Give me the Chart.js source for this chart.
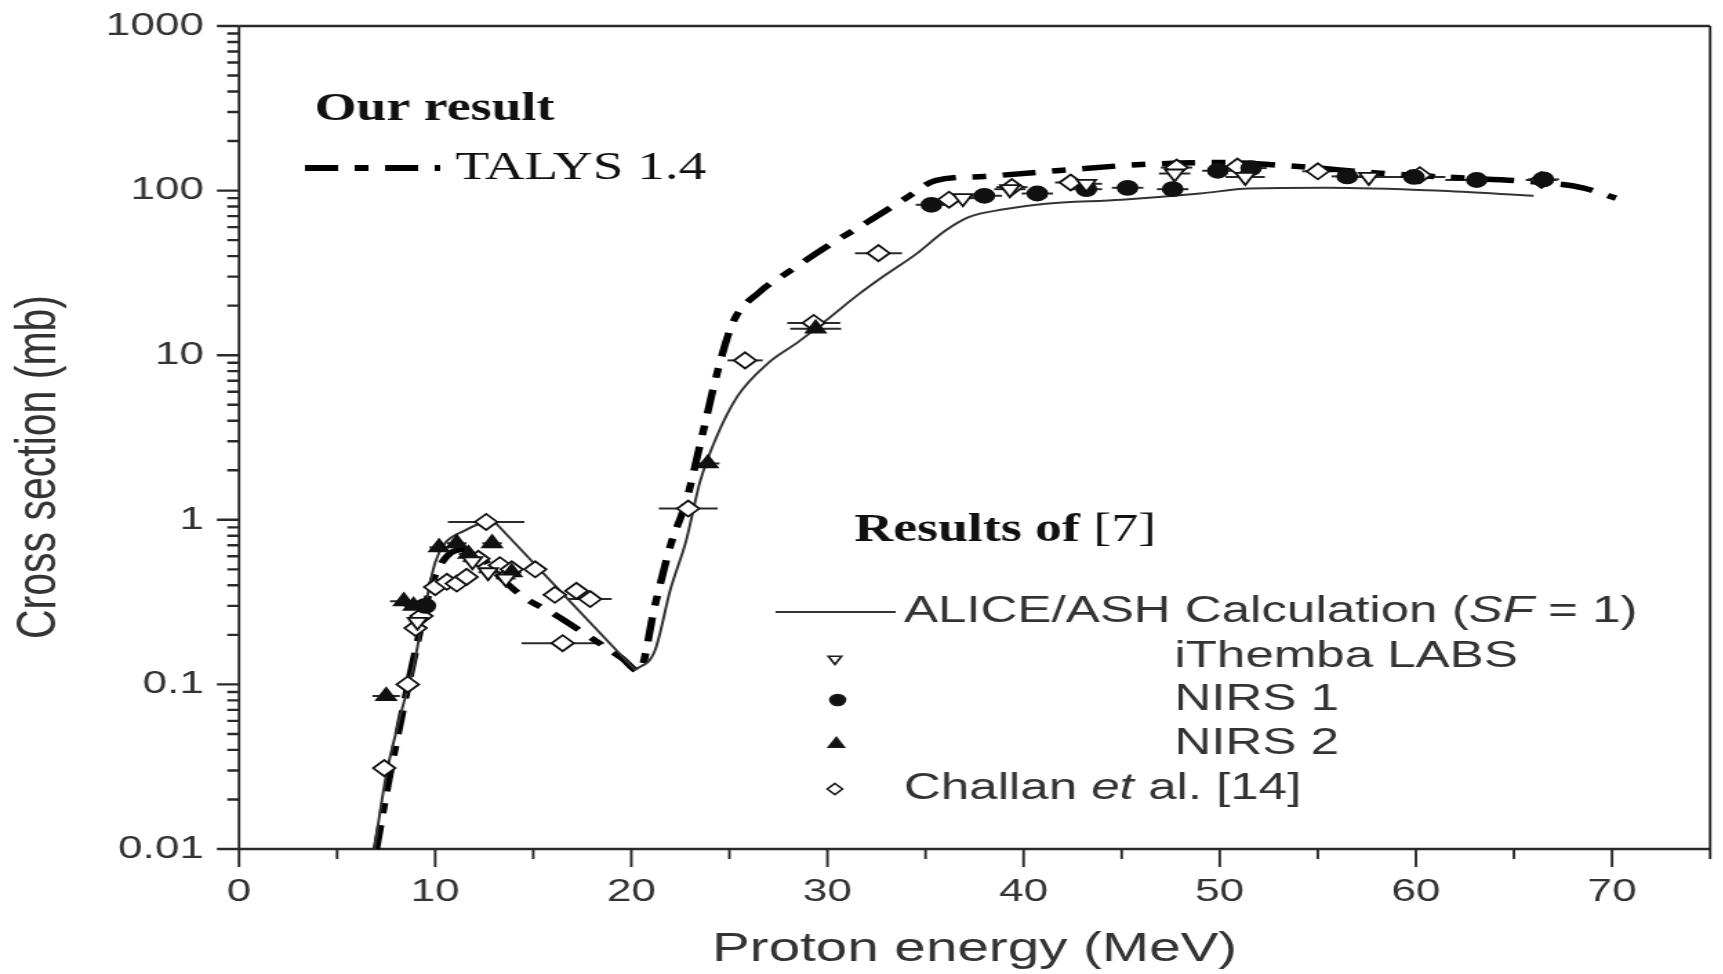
<!DOCTYPE html>
<html>
<head>
<meta charset="utf-8">
<title>Cross section vs proton energy</title>
<script src="https://cdn.jsdelivr.net/npm/chart.js@4.4.1/dist/chart.umd.min.js"></script>
<style>
  html, body { margin: 0; padding: 0; background: #fff; overflow: hidden; }
  #wrap { width: 1723px; height: 974px; overflow: hidden; }
  /* the figure is drawn narrow and widened, like the original plot */
  #plot { display: block; transform: scaleX(1.38); transform-origin: 0 0; }
</style>
</head>
<body>
<div id="wrap"><canvas id="plot" width="1249" height="974"></canvas></div>
<script>
// axes
const xTicks = [0, 10, 20, 30, 40, 50, 60, 70];
const yTicks = [0.01, 0.1, 1, 10, 100, 1000];
const yTickLabels = ['0.01', '0.1', '1', '10', '100', '1000'];

// TALYS 1.4 (our result)
const talysE  = [7.0, 7.6, 8.3, 9.0, 9.8, 10.6, 11.5, 12.3, 13.3, 14.5, 16.0, 18.0, 19.5, 20.4, 21.2, 22.0, 22.8, 23.6, 24.4, 25.2, 26.5, 28.0, 30.0, 32.0, 34.0, 35.5, 38.0, 42.0, 46.0, 50.0, 54.0, 58.0, 62.0, 66.0, 68.5, 70.2];
const talysXS = [0.01, 0.025, 0.065, 0.16, 0.4, 0.6, 0.66, 0.6, 0.45, 0.34, 0.27, 0.19, 0.145, 0.12, 0.3, 0.7, 1.3, 3.2, 8, 16, 24, 32, 46, 64, 90, 115, 122, 133, 144, 148, 140, 128, 120, 113, 104, 90];

// ALICE/ASH calculation; sharp peak at 13 MeV, straight fall to the 20.2 MeV minimum
const aliceE  = [6.9, 7.5, 8.2, 8.9, 9.4, 10.0, 10.5, 11.5, 12.3, 13.0, 20.2, 21.2, 22.0, 22.8, 23.5, 24.3, 25.4, 27.0, 28.5, 30.0, 31.5, 33.0, 34.5, 36.0, 37.2, 39.0, 41.0, 45.0, 49.0, 51.5, 55.5, 61.0, 66.0];
const aliceXS = [0.01, 0.028, 0.063, 0.13, 0.26, 0.55, 0.72, 0.86, 0.95, 0.98, 0.122, 0.16, 0.38, 0.75, 1.7, 3.1, 5.6, 9.0, 12, 16.5, 23, 31, 41, 57, 69, 77, 83, 88, 96, 103, 104, 100, 93];
const alicePeak = 9;
const aliceMin = 10;

// measurements: energy, cross section, energy half-width
const ithembaE  = [9.1, 11.9, 12.7, 13.6, 36.9, 39.3, 43.2, 47.7, 51.3, 57.6];
const ithembaXS = [0.24, 0.56, 0.48, 0.44, 90, 102, 110, 127, 121, 121];
const ithembaDE = [0.4, 0.5, 0.5, 0.5, 0.8, 0.8, 0.8, 0.8, 1.0, 0.8];

const nirs1E  = [9.5, 35.3, 38.0, 40.7, 43.2, 45.3, 47.6, 49.9, 51.6, 56.5, 59.9, 63.1, 66.5];
const nirs1XS = [0.3, 82, 93, 96, 102, 104, 102, 132, 137, 122, 121, 116, 117];
const nirs1DE = [0.4, 0.8, 0.9, 0.8, 0.8, 0.8, 0.8, 0.8, 0.8, 0.8, 1.6, 1.6, 0.8];

const nirs2E  = [7.5, 8.4, 8.9, 10.2, 11.1, 11.7, 12.9, 13.9, 23.9, 29.4];
const nirs2XS = [0.085, 0.32, 0.3, 0.68, 0.72, 0.62, 0.72, 0.48, 2.2, 14.5];
const nirs2DE = [0.7, 0.7, 0.5, 0.5, 0.5, 0.5, 0.5, 0.5, 0.6, 1.3];

const challanE  = [7.4, 8.6, 9.0, 9.3, 10.0, 10.6, 11.1, 11.6, 12.2, 12.6, 13.3, 13.9, 15.1, 16.1, 16.5, 17.2, 17.9, 22.9, 25.8, 29.3, 32.6, 36.2, 39.4, 42.4, 47.8, 50.9, 55.0, 60.2, 66.4];
const challanXS = [0.031, 0.10, 0.22, 0.26, 0.39, 0.42, 0.41, 0.45, 0.58, 0.97, 0.53, 0.50, 0.50, 0.35, 0.178, 0.37, 0.33, 1.17, 9.3, 15.7, 41.7, 88, 105, 112, 138, 140, 131, 124, 116];
const challanDE = [0.3, 0.3, 0.3, 0.3, 0.4, 0.4, 0.4, 0.4, 0.4, 1.95, 0.5, 0.5, 0.5, 0.6, 2.1, 0.6, 1.1, 1.5, 0.9, 1.35, 1.2, 0.8, 0.8, 0.8, 0.8, 0.8, 0.8, 0.8, 0.8];

const SANS = '"Liberation Sans", Arial, sans-serif';
const SERIF = '"Liberation Serif", "Times New Roman", serif';
const GREY = '#333';
const talysDash = [24, 12, 10, 12];

function pairs(xs, ys, dx) {
  return xs.map((x, i) => ({ x: x, y: ys[i], dx: dx ? dx[i] : 0 }));
}

function shape(ctx, kind, x, y, r) {
  ctx.beginPath();
  if (kind === 'circle') {
    ctx.arc(x, y, r, 0, Math.PI * 2);
  } else if (kind === 'up' || kind === 'down') {
    const s = kind === 'up' ? 1 : -1;
    ctx.moveTo(x, y - s * r);
    ctx.lineTo(x + r * 0.866, y + s * r / 2);
    ctx.lineTo(x - r * 0.866, y + s * r / 2);
    ctx.closePath();
  } else {
    ctx.moveTo(x, y - r);
    ctx.lineTo(x + r, y);
    ctx.lineTo(x, y + r);
    ctx.lineTo(x - r, y);
    ctx.closePath();
  }
}

// text made of several runs with their own fonts
function runs(ctx, parts, x, y) {
  for (const [txt, font] of parts) {
    ctx.font = font;
    ctx.fillText(txt, x, y);
    x += ctx.measureText(txt).width;
  }
}

// frame, tick marks and energy error bars
const frame = {
  id: 'frame',
  beforeDatasetsDraw(chart) {
    const { ctx, chartArea: a, scales: { x, y } } = chart;
    ctx.save();
    ctx.strokeStyle = '#2a2a2a';

    ctx.lineWidth = 2;
    chart.data.datasets.forEach(ds => {
      if (!ds.errorBars) return;
      ds.data.forEach(p => {
        if (!p.dx) return;
        const py = y.getPixelForValue(p.y);
        ctx.beginPath();
        ctx.moveTo(x.getPixelForValue(p.x - p.dx), py);
        ctx.lineTo(x.getPixelForValue(p.x + p.dx), py);
        ctx.stroke();
      });
    });

    ctx.lineWidth = 2.6;
    ctx.beginPath();
    ctx.moveTo(a.left, a.top); ctx.lineTo(a.right, a.top);
    ctx.moveTo(a.left, a.bottom); ctx.lineTo(a.right, a.bottom);
    ctx.stroke();
    ctx.lineWidth = 1.9;
    ctx.beginPath();
    ctx.moveTo(a.left, a.top); ctx.lineTo(a.left, a.bottom);
    ctx.moveTo(a.right, a.top); ctx.lineTo(a.right, a.bottom);
    ctx.stroke();

    // log ticks on the left, 1..9 per decade
    ctx.lineWidth = 2.4;
    ctx.beginPath();
    for (let d = -2; d <= 3; d++) {
      for (let m = 1; m <= 9; m++) {
        const v = m * Math.pow(10, d);
        if (v > 1000.001) break;
        const py = y.getPixelForValue(v);
        const len = m === 1 ? 16 : 8.5;
        ctx.moveTo(a.left - len, py);
        ctx.lineTo(a.left, py);
      }
    }
    ctx.stroke();

    // energy ticks every 5 MeV
    ctx.lineWidth = 1.9;
    ctx.beginPath();
    for (let v = 0; v <= 75; v += 5) {
      const px = x.getPixelForValue(v);
      const len = v % 10 === 0 ? 18 : 10;
      ctx.moveTo(px, a.bottom);
      ctx.lineTo(px, a.bottom + len);
    }
    ctx.stroke();
    ctx.restore();
  }
};

// axis title and the two key blocks
const notes = {
  id: 'notes',
  afterDraw(chart) {
    const ctx = chart.ctx;
    ctx.save();
    ctx.textBaseline = 'middle';

    ctx.save();
    ctx.translate(29, 467);
    ctx.rotate(-Math.PI / 2);
    ctx.textAlign = 'center';
    ctx.fillStyle = GREY;
    ctx.font = '41px ' + SANS;
    ctx.fillText('Cross section (mb)', 0, 0);
    ctx.restore();

    ctx.textAlign = 'left';
    ctx.fillStyle = '#111';
    ctx.font = 'bold 39px ' + SERIF;
    ctx.fillText('Our result', 228, 110);

    ctx.strokeStyle = '#000';
    ctx.lineWidth = 6;
    ctx.setLineDash(talysDash);
    ctx.beginPath();
    ctx.moveTo(221, 168);
    ctx.lineTo(319, 168);
    ctx.stroke();
    ctx.setLineDash([]);
    ctx.font = '40px ' + SERIF;
    ctx.fillText('TALYS 1.4', 330, 168);

    runs(ctx, [['Results of ', 'bold 39px ' + SERIF], ['[7]', '39px ' + SERIF]], 619, 531);

    ctx.fillStyle = GREY;
    ctx.strokeStyle = '#333';
    ctx.lineWidth = 2;
    ctx.beginPath();
    ctx.moveTo(562, 612);
    ctx.lineTo(649, 612);
    ctx.stroke();
    const f = '37px ' + SANS, fi = 'italic 37px ' + SANS;
    runs(ctx, [['ALICE/ASH Calculation (', f], ['SF', fi], [' = 1)', f]], 655, 612);

    ctx.font = f;
    ctx.fillText('iThemba LABS', 851, 657);
    ctx.fillText('NIRS 1', 851, 700);
    ctx.fillText('NIRS 2', 851, 744);
    runs(ctx, [['Challan ', f], ['et', fi], [' al. [14]', f]], 655, 789);

    ctx.lineWidth = 1.6;
    ctx.strokeStyle = '#1a1a1a';
    const keys = [['down', 605, 659, 5.5, false], ['circle', 607, 700, 5.5, true],
                  ['up', 606, 744, 6.5, true], ['diamond', 605, 789, 5.5, false]];
    for (const [k, kx, ky, r, solid] of keys) {
      shape(ctx, k, kx, ky, r);
      ctx.fillStyle = solid ? '#111' : '#fff';
      ctx.fill();
      ctx.stroke();
    }
    ctx.restore();
  }
};

const pointSet = (label, data, style, rotation, filled, r) => ({
  label: label,
  data: data,
  showLine: false,
  errorBars: true,
  pointStyle: style,
  rotation: rotation,
  pointRadius: r,
  pointBorderWidth: 1.8,
  borderColor: '#111',
  backgroundColor: filled ? '#111' : '#fff',
  order: 1
});

const aliceLine = (data, smooth) => ({
  label: 'ALICE/ASH Calculation (SF = 1)',
  data: data,
  showLine: true,
  borderColor: '#333',
  borderWidth: 2,
  pointRadius: 0,
  tension: 0,
  cubicInterpolationMode: smooth ? 'monotone' : 'default',
  order: 2
});

const alice = pairs(aliceE, aliceXS);

new Chart(document.getElementById('plot'), {
  type: 'scatter',
  data: {
    datasets: [
      pointSet('iThemba LABS', pairs(ithembaE, ithembaXS, ithembaDE), 'triangle', 180, false, 8),
      pointSet('NIRS 1', pairs(nirs1E, nirs1XS, nirs1DE), 'circle', 0, true, 7),
      pointSet('NIRS 2', pairs(nirs2E, nirs2XS, nirs2DE), 'triangle', 0, true, 8),
      pointSet('Challan et al. [14]', pairs(challanE, challanXS, challanDE), 'rectRot', 0, false, 8),
      // rise to the peak, straight fall to the minimum, then the second rise
      aliceLine(alice.slice(0, alicePeak + 1), true),
      aliceLine(alice.slice(alicePeak, aliceMin + 1), false),
      aliceLine(alice.slice(aliceMin), true),
      {
        label: 'TALYS 1.4',
        data: pairs(talysE, talysXS),
        showLine: true,
        borderColor: '#000',
        borderWidth: 5.5,
        borderDash: talysDash,
        pointRadius: 0,
        cubicInterpolationMode: 'monotone',
        order: 2
      }
    ]
  },
  options: {
    responsive: false,
    animation: false,
    devicePixelRatio: 1,
    layout: { padding: { top: 26, right: 6.2, left: 0, bottom: 0 } },
    plugins: { legend: { display: false }, tooltip: { enabled: false } },
    scales: {
      x: {
        type: 'linear',
        min: 0,
        max: 75,
        grid: { display: false, drawTicks: false },
        border: { display: false },
        afterBuildTicks: s => { s.ticks = xTicks.map(v => ({ value: v })); },
        afterFit: s => { s.height = 125; s.paddingLeft = 0; s.paddingRight = 0; },
        ticks: {
          padding: 24,
          color: GREY,
          font: { family: SANS, size: 32 },
          maxRotation: 0,
          autoSkip: false,
          callback: v => String(v)
        },
        title: {
          display: true,
          text: 'Proton energy (MeV)',
          color: GREY,
          font: { family: SANS, size: 41 },
          padding: { top: 0, bottom: 0 }
        }
      },
      y: {
        type: 'logarithmic',
        min: 0.01,
        max: 1000,
        grid: { display: false, drawTicks: false },
        border: { display: false },
        afterBuildTicks: s => { s.ticks = yTicks.map(v => ({ value: v })); },
        afterFit: s => { s.width = 173.2; s.paddingTop = 0; s.paddingBottom = 0; },
        ticks: {
          padding: 25.4,
          color: GREY,
          font: { family: SANS, size: 32 },
          autoSkip: false,
          callback: (v, i) => yTickLabels[i]
        }
      }
    }
  },
  plugins: [frame, notes]
});
</script>
</body>
</html>
